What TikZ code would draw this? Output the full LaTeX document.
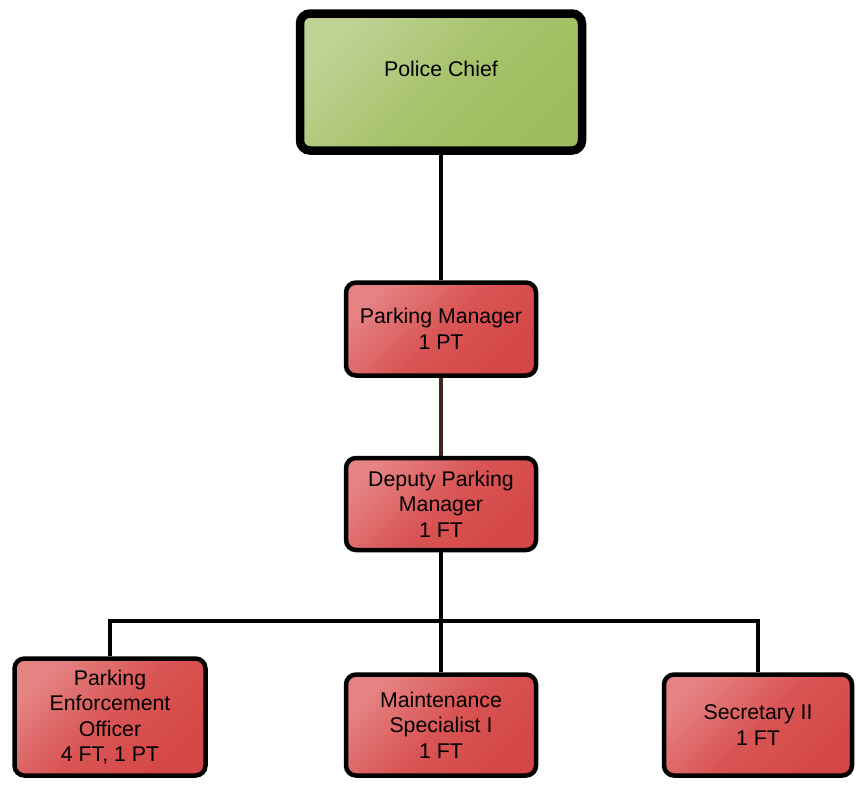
\documentclass[tikz,border=0pt]{standalone}
\usepackage{fontspec}
\setmainfont{Liberation Sans}
\usetikzlibrary{positioning}
\definecolor{chiefgreen}{RGB}{158, 189, 92}
\definecolor{chieflight}{RGB}{190, 210, 148}
\definecolor{staffred}{RGB}{213, 70, 70}
\definecolor{stafflight}{RGB}{229, 130, 130}
\definecolor{linkbrown}{RGB}{66, 36, 30}

\begin{document}
\begin{tikzpicture}[x=1pt, y=-1pt,
        box/.style={draw=black, line width=4.5pt, rounded corners=10pt, align=center,
            top color=stafflight, bottom color=staffred, middle color=staffred!75!stafflight,
            shading angle=45, minimum width=190pt, font=\fontsize{21.3}{25.5}\selectfont},
        chiefbox/.style={box, line width=8.5pt, top color=chieflight, bottom color=chiefgreen,
            middle color=chiefgreen!70!chieflight, shading angle=45,
            minimum width=282pt, minimum height=137pt},
        link/.style={line width=4.5pt}]

        % fixes the margins of the page
        \useasboundingbox (0,0) rectangle (856,785);

        % top of the chart
        \node[chiefbox, label={[yshift=13pt, font=\fontsize{21.3}{25.5}\selectfont]center:Police Chief}]
            (chief) at (441,82) {};
        \node[box, minimum height=93pt] (manager) at (441,329) {Parking Manager\\1 PT};
        \node[box, minimum height=92pt] (deputy) at (441,504) {Deputy Parking\\Manager\\1 FT};

        % the three units under the deputy
        \node[box, minimum width=191pt, minimum height=117pt] (officer) at (110,717)
            {Parking\\Enforcement\\Officer\\4 FT, 1 PT};
        \node[box, minimum height=101pt] (maint) at (441,725) {Maintenance\\Specialist I\\1 FT};
        \node[box, minimum width=188pt, minimum height=101pt] (secretary) at (758,725)
            {Secretary II\\1 FT};

        % connectors
        \draw[link] (chief.south) -- (manager.north);
        \draw[link, linkbrown] (manager.south) -- (deputy.north);
        \coordinate (bus) at (441,621);
        \draw[link] (deputy.south) -- (bus);
        \draw[link] (officer.north) |- (bus) -| (secretary.north);
        \draw[link] (bus) -- (maint.north);
    \end{tikzpicture}
\end{document}
